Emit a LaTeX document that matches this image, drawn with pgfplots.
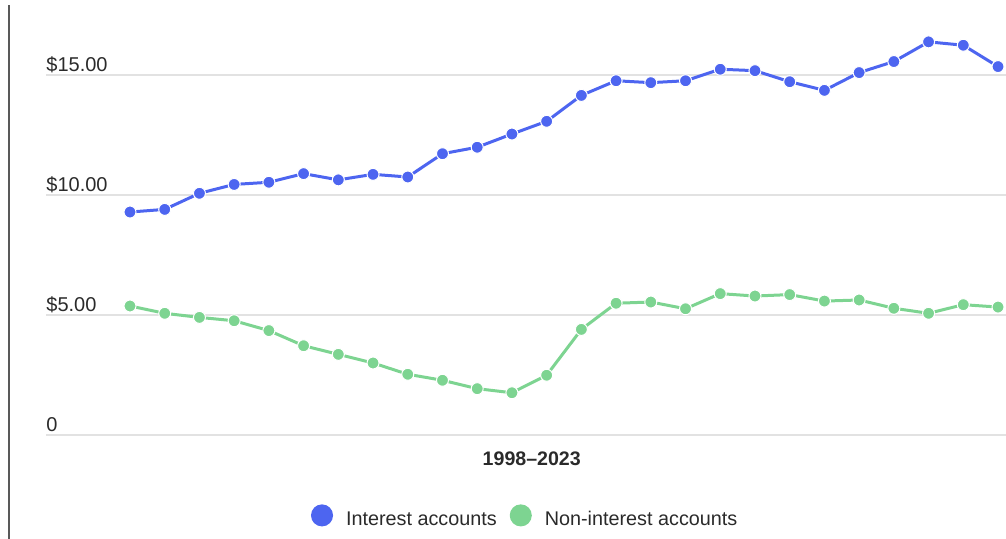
\documentclass[border=0pt]{standalone}
\usepackage{pgfplots}
\pgfplotsset{compat=1.18}
\usepackage{fontspec}
\setmainfont{Liberation Sans}
\definecolor{intblue}{HTML}{4D65F0}
\definecolor{nongreen}{HTML}{7DD491}
\definecolor{txt}{HTML}{2A2A2A}
\definecolor{gridc}{HTML}{E2E2E2}
\begin{document}
\begin{tikzpicture}
\path[use as bounding box] (0pt,0pt) rectangle (503pt,269.5pt);
\draw[color={black!65}, line width=1pt] (4.25pt,0pt) -- (4.25pt,267pt);
\begin{axis}[
    at={(23pt,52pt)}, anchor=south west,
    scale only axis,
    width=480pt, height=216pt,
    xmin=1995.581, xmax=2023.23,
    ymin=0, ymax=18,
    axis line style={draw=none},
    major tick length=0pt,
    xtick=\empty,
    ytick={0,5,10,15},
    yticklabels={0,\$5.00,\$10.00,\$15.00},
    ymajorgrids,
    grid style={color=gridc, line width=0.6pt},
    yticklabel style={anchor=base west, inner xsep=0pt, yshift=1.5pt,
        font=\fontsize{10}{12}\selectfont, text=txt},
    xlabel={\textbf{1998–2023}},
    xlabel style={at={(axis description cs:0.506,0)}, anchor=base, yshift=-15.5pt,
        font=\fontsize{9.8}{12}\selectfont, text=txt},
    legend columns=2,
    legend style={at={(axis description cs:0.495,0)}, anchor=north, yshift=-34.5pt, xshift=1.5pt,
        draw=none, fill=none, inner sep=0pt, column sep=6.5pt,
        font=\fontsize{9.9}{12}\selectfont, text=txt,
        nodes={inner xsep=0pt}},
    clip=false,
]
\addplot[color=intblue, line width=1.5pt, mark=*, mark size=3pt,
    mark options={fill=intblue, draw=white, line width=0.5pt},
    legend image code/.code={\fill[intblue] (0pt,2.2pt) circle (4.75pt);}]
coordinates {
(1998,9.29)(1999,9.40)(2000,10.07)(2001,10.44)(2002,10.53)(2003,10.89)
(2004,10.63)(2005,10.86)(2006,10.75)(2007,11.72)(2008,11.99)(2009,12.54)
(2010,13.07)(2011,14.15)(2012,14.76)(2013,14.68)(2014,14.76)(2015,15.24)
(2016,15.18)(2017,14.72)(2018,14.36)(2019,15.10)(2020,15.56)(2021,16.38)
(2022,16.24)(2023,15.35)
};
\addplot[color=nongreen, line width=1.5pt, mark=*, mark size=3pt,
    mark options={fill=nongreen, draw=white, line width=0.5pt},
    legend image code/.code={\fill[nongreen] (0pt,2.2pt) circle (4.75pt);}]
coordinates {
(1998,5.375)(1999,5.07)(2000,4.90)(2001,4.76)(2002,4.35)(2003,3.72)
(2004,3.36)(2005,3.00)(2006,2.53)(2007,2.28)(2008,1.93)(2009,1.76)
(2010,2.49)(2011,4.40)(2012,5.49)(2013,5.54)(2014,5.26)(2015,5.89)
(2016,5.79)(2017,5.85)(2018,5.58)(2019,5.625)(2020,5.28)(2021,5.07)
(2022,5.43)(2023,5.33)
};
\legend{Interest accounts, Non-interest accounts}
\end{axis}
\end{tikzpicture}
\end{document}
